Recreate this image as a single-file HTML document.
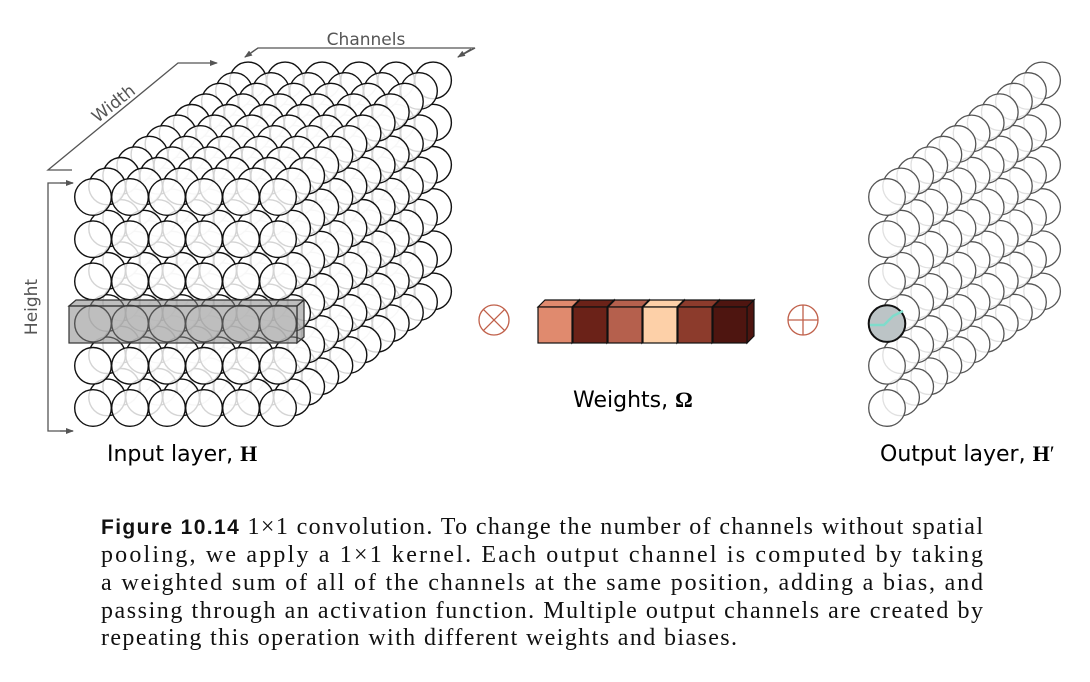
<!DOCTYPE html>
<html><head><meta charset="utf-8"><style>
html,body{margin:0;padding:0;background:#fff;width:1090px;height:682px;overflow:hidden}
svg{display:block}
</style></head><body>
<svg id="s" width="1090" height="682" viewBox="0 0 1090 682" xmlns="http://www.w3.org/2000/svg">
<defs>
<marker id="ah" markerWidth="8" markerHeight="6" refX="7" refY="3" orient="auto" markerUnits="userSpaceOnUse"><path d="M0,0 L8,3 L0,6 z" fill="#555"/></marker>
</defs>
<g id="inp"></g>
<g id="outp"></g>
<g stroke="#333" stroke-width="1.2" fill="#888" fill-opacity="0.55">
<polygon points="69,306 76,300 304,300 297,306"/>
<polygon points="297,306 304,300 304,337 297,343"/>
<rect x="69" y="306" width="228" height="37"/>
</g>
<g stroke="#555" stroke-width="1.3" fill="none">
<polyline points="72,170 48,170 178,63 217,63" marker-end="url(#ah)"/>
<polyline points="245,57 258,48 475,48 458,57"/>
<path d="M258,48 L245,57" marker-end="url(#ah)"/>
<path d="M471,49 L458,57" marker-end="url(#ah)"/>
<polyline points="73,183 48,183 48,431 73,431"/>
<path d="M60,183 L73,183" marker-end="url(#ah)"/>
<path d="M60,431 L73,431" marker-end="url(#ah)"/>
</g>
<g font-family="'DejaVu Sans','Liberation Sans',sans-serif" fill="#555" font-size="17">
<text x="366" y="45" text-anchor="middle">Channels</text>
<text transform="translate(117,108) rotate(-38)" text-anchor="middle">Width</text>
<text transform="translate(37,307) rotate(-90)" text-anchor="middle">Height</text>
</g>
<g stroke="#c0604a" stroke-width="1.3" fill="none">
<circle cx="494" cy="320" r="15"/>
<path d="M483.4,309.4 L504.6,330.6 M504.6,309.4 L483.4,330.6"/>
<circle cx="803" cy="320" r="15"/>
<path d="M788,320 L818,320 M803,305 L803,335"/>
</g>
<g id="cubes" stroke="#111" stroke-width="1.2"></g>
<g font-family="'DejaVu Sans','Liberation Sans',sans-serif" fill="#000" font-size="22">
<text x="107" y="461">Input layer, <tspan font-family="'Liberation Serif',serif" font-weight="bold">H</tspan></text>
<text x="573" y="407">Weights, <tspan font-family="'Liberation Serif',serif" font-weight="bold">Ω</tspan></text>
<text x="880" y="461">Output layer, <tspan font-family="'Liberation Serif',serif" font-weight="bold">H</tspan><tspan font-family="'Liberation Serif',serif">′</tspan></text>
</g>
<g font-family="'Liberation Serif',serif" font-size="24" fill="#111">
<text x="101" y="534" textLength="882" lengthAdjust="spacing"><tspan font-family="'Liberation Sans',sans-serif" font-weight="bold" font-size="21">Figure 10.14</tspan> 1×1 convolution. To change the number of channels without spatial</text>
<text x="101" y="562" textLength="882" lengthAdjust="spacing">pooling, we apply a 1×1 kernel.  Each output channel is computed by taking</text>
<text x="101" y="590" textLength="882" lengthAdjust="spacing">a weighted sum of all of the channels at the same position, adding a bias, and</text>
<text x="101" y="618" textLength="882" lengthAdjust="spacing">passing through an activation function. Multiple output channels are created by</text>
<text x="101" y="645" textLength="636" lengthAdjust="spacing">repeating this operation with different weights and biases.</text>
</g>
</svg>
<script>
var NS="http://www.w3.org/2000/svg";
function c(g,x,y,r,st,sw,fill,fo){var e=document.createElementNS(NS,"circle");e.setAttribute("cx",x);e.setAttribute("cy",y);e.setAttribute("r",r);e.setAttribute("stroke",st);e.setAttribute("stroke-width",sw);e.setAttribute("fill",fill);e.setAttribute("fill-opacity",fo);g.appendChild(e);}
var inp=document.getElementById("inp");
var dx=14.1,dy=-10.6;
for(var k=11;k>=0;k--){for(var r=0;r<6;r++){for(var col=0;col<6;col++){
 c(inp,93+col*37+k*dx,197+r*42.2+k*dy,18.3,"#111",1.4,"#fff",0.82);}}}
var op=document.getElementById("outp");
for(var k=11;k>=0;k--){for(var r=0;r<6;r++){
 if(k==0&&r==3){c(op,887,197+r*42.2,18.3,"#111",2,"#bcc4c6",1);}
 else c(op,887+k*dx,197+r*42.2+k*dy,18.3,"#555",1.3,"#fff",0.82);}}
var pl=document.createElementNS(NS,"polyline");pl.setAttribute("points","870,325 884,325 893,316 903,311");pl.setAttribute("stroke","#7fdccb");pl.setAttribute("stroke-width","2.5");pl.setAttribute("fill","none");op.appendChild(pl);
var cols=["#e08a6e","#6b2218","#b5604d","#fdd0a8","#8c3b2c","#4e1510"];
var cg=document.getElementById("cubes");
function poly(pts,f){var e=document.createElementNS(NS,"polygon");e.setAttribute("points",pts);e.setAttribute("fill",f);cg.appendChild(e);}
for(var i=0;i<6;i++){var x=538+i*35,y=307,w=34,h=36,d=7;
 poly(x+","+y+" "+(x+d)+","+(y-d)+" "+(x+w+d)+","+(y-d)+" "+(x+w)+","+y,cols[i]);
 poly((x+w)+","+y+" "+(x+w+d)+","+(y-d)+" "+(x+w+d)+","+(y+h-d)+" "+(x+w)+","+(y+h),cols[i]);
 var r=document.createElementNS(NS,"rect");r.setAttribute("x",x);r.setAttribute("y",y);r.setAttribute("width",w);r.setAttribute("height",h);r.setAttribute("fill",cols[i]);cg.appendChild(r);}
</script>
</body></html>
